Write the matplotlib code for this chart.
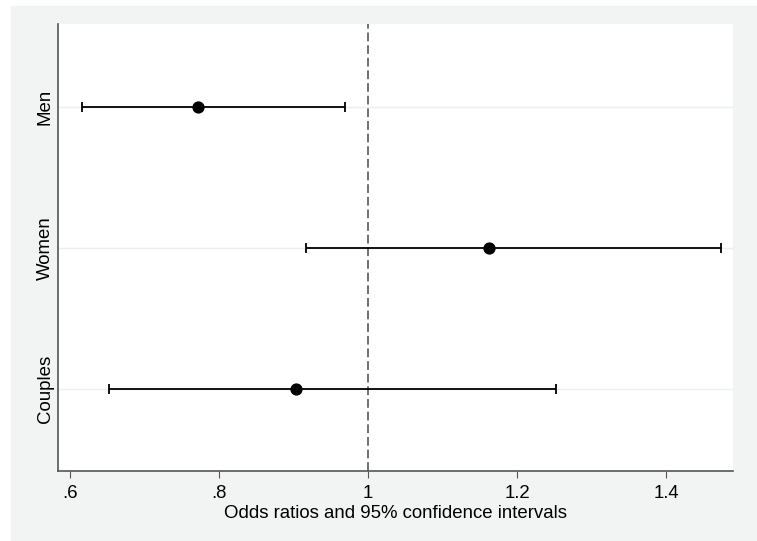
import matplotlib as mpl
mpl.use('Agg')
import matplotlib.pyplot as plt
from matplotlib.patches import Rectangle

# Odds ratios with 95% confidence intervals
groups = ["Men", "Women", "Couples"]
odds = [0.772, 1.162, 0.904]
ci_low = [0.616, 0.917, 0.653]
ci_high = [0.969, 1.474, 1.253]
xticks = [0.6, 0.8, 1.0, 1.2, 1.4]
xtick_labels = [".6", ".8", "1", "1.2", "1.4"]

plt.rcParams['font.family'] = ['Liberation Sans', 'DejaVu Sans']
FS = 13.4

fig = plt.figure(figsize=(7.57, 5.41), dpi=100)
fig.patch.set_facecolor('white')
# stata-like light grey graph region
fig.patches.append(Rectangle((11 / 757, 0), 1, 1 - 6 / 541,
                             transform=fig.transFigure, color='#f2f4f4',
                             zorder=-10))

ax = fig.add_axes([58 / 757, 70 / 541, 675 / 757, 447 / 541])
ax.set_facecolor('white')

ypos = [3, 2, 1]
for y in ypos:
    ax.axhline(y, color='#e8f0f0', lw=1, zorder=0)

ax.axvline(1.0, color='#707070', lw=1.4, ls=(0, (4.5, 2)), zorder=1)

err = [[o - l for o, l in zip(odds, ci_low)],
       [h - o for o, h in zip(odds, ci_high)]]
ax.errorbar(odds, ypos, xerr=err, fmt='o', color='black', ms=7.8,
            elinewidth=1.3, capsize=3.5, capthick=1.3, zorder=3)

ax.set_xlim(0.584, 1.49)
ax.set_ylim(0.42, 3.59)
ax.set_xticks(xticks)
ax.set_xticklabels(xtick_labels, fontsize=FS)
ax.set_yticks(ypos)
ax.set_yticklabels(groups, rotation=90, va='center', fontsize=FS)
ax.tick_params(axis='y', length=0, pad=3)
ax.tick_params(axis='x', length=5, color='#555555', pad=5)

ax.set_xlabel("Odds ratios and 95% confidence intervals", fontsize=FS,
              labelpad=2)

for side in ['top', 'right']:
    ax.spines[side].set_visible(False)
for side in ['left', 'bottom']:
    ax.spines[side].set_color('#555555')
    ax.spines[side].set_linewidth(1.2)

fig.savefig('out.png', dpi=100, facecolor=fig.get_facecolor())
